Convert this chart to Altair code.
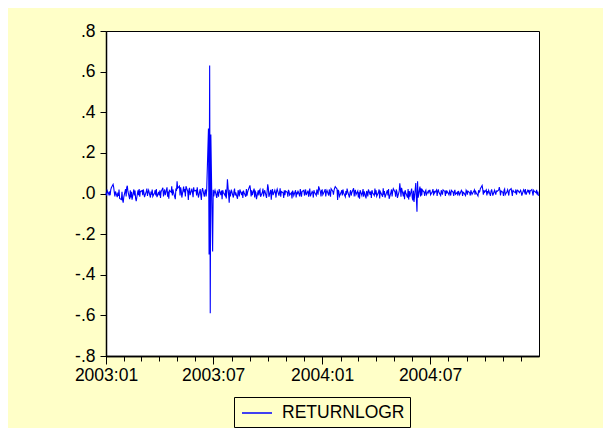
import pandas as pd
import altair as alt

# Daily log returns, one list per month
jan03 = [0.004, -0.010, 0.014, -0.006, 0.010, -0.008, 0.018, 0.028, 0.045, 0.030, 0.006, -0.014, 0.010, -0.018, 0.004, -0.012, 0.020, -0.024, -0.030, 0.008, -0.032, -0.045, -0.018]
feb03 = [0.022, -0.014, 0.030, 0.038, 0.010, -0.028, 0.016, -0.020, 0.008, -0.030, 0.020, -0.010, 0.014, -0.024, -0.038, 0.016, -0.008, 0.022, -0.016, 0.010]
mar03 = [0.014, -0.008, 0.020, 0.004, -0.018, 0.010, 0.024, -0.012, 0.006, 0.016, -0.020, 0.010, -0.006, 0.020, -0.014, 0.004, 0.016, -0.010, 0.022, -0.018, 0.008]
apr03 = [-0.010, 0.016, -0.022, 0.008, 0.028, -0.014, 0.006, 0.020, -0.008, 0.030, -0.016, 0.010, -0.026, 0.016, 0.006, 0.035, -0.010, 0.020, 0.006, -0.028, 0.024, 0.012]
may03 = [0.060, 0.026, 0.036, -0.010, 0.030, 0.014, -0.020, 0.034, 0.006, 0.022, -0.014, 0.036, 0.010, -0.032, 0.018, 0.028, -0.008, 0.024, 0.004, -0.018, 0.030, 0.012]
jun03 = [0.016, -0.010, 0.030, 0.006, -0.020, 0.022, -0.008, -0.032, 0.012, 0.026, -0.016, 0.010, 0.020, -0.014, 0.018, 0.320, -0.300, 0.630, -0.590, 0.290, -0.285]
jul03 = [0.018, -0.014, 0.006, 0.016, -0.022, 0.010, 0.004, -0.016, 0.022, -0.008, 0.014, -0.028, 0.016, 0.005, -0.010, 0.020, -0.024, 0.008, 0.070, -0.045, 0.018, -0.014, 0.006]
aug03 = [0.014, -0.020, 0.010, 0.024, -0.010, 0.006, -0.026, 0.016, 0.004, -0.014, 0.020, -0.008, 0.010, -0.022, 0.014, 0.005, -0.016, 0.022, -0.010, 0.006, 0.016]
sep03 = [0.040, 0.018, -0.014, 0.016, -0.008, 0.024, -0.020, 0.010, 0.004, -0.028, 0.016, -0.010, 0.014, 0.020, -0.016, 0.006, 0.024, -0.014, 0.004, 0.016, -0.022, 0.010]
oct03 = [0.045, 0.028, -0.016, 0.018, -0.030, 0.010, 0.022, -0.008, 0.016, 0.004, -0.020, 0.012, 0.022, -0.010, 0.006, 0.026, -0.016, 0.010, 0.004, -0.022, 0.016, -0.008, 0.012]
nov03 = [0.006, -0.016, 0.018, 0.010, -0.008, 0.004, -0.024, 0.014, 0.005, -0.010, 0.016, -0.020, 0.006, -0.004, 0.014, -0.014, 0.022, 0.004, -0.016, 0.010]
dec03 = [0.016, -0.010, 0.006, 0.020, -0.008, 0.014, -0.016, 0.004, 0.024, -0.014, 0.010, 0.005, -0.020, 0.016, 0.006, -0.010, 0.020, 0.010, -0.006, 0.035, 0.008, -0.014, 0.016]
jan04 = [0.018, -0.006, 0.012, 0.022, -0.014, 0.006, 0.016, -0.010, 0.020, 0.004, -0.016, 0.024, 0.010, -0.006, 0.016, 0.026, 0.034, 0.022, -0.032, 0.018, 0.010, -0.014]
feb04 = [0.006, 0.016, -0.010, 0.020, 0.004, -0.016, 0.012, -0.006, 0.024, 0.010, -0.020, 0.006, 0.016, -0.010, 0.004, 0.026, -0.014, 0.010, 0.018, -0.006]
mar04 = [0.012, -0.020, 0.006, -0.026, 0.016, -0.010, 0.004, 0.022, -0.016, 0.010, -0.024, 0.012, 0.005, -0.014, 0.020, -0.006, 0.010, -0.022, 0.016, 0.004, -0.010, 0.024, -0.004]
apr04 = [0.016, -0.014, 0.006, 0.020, -0.024, 0.010, 0.004, -0.016, 0.026, -0.006, 0.012, -0.020, 0.008, 0.016, -0.010, 0.022, -0.026, 0.006, 0.020, -0.014, 0.010, 0.024]
may04 = [0.006, -0.016, 0.020, 0.010, -0.022, 0.012, 0.050, 0.022, -0.016, 0.028, -0.014, 0.010, -0.028, 0.016, 0.004, -0.020, 0.022, -0.030, 0.012, -0.016, 0.024]
jun04 = [-0.020, -0.034, 0.014, -0.042, 0.052, -0.024, -0.090, 0.060, -0.020, 0.034, -0.014, 0.026, -0.010, 0.018, 0.006, -0.012, 0.010, 0.016, -0.006, 0.012, 0.004, 0.016]
jul04 = [0.016, -0.006, 0.010, 0.022, -0.010, 0.012, 0.004, 0.018, -0.012, 0.010, 0.020, 0.006, -0.010, 0.016, 0.005, -0.006, 0.018, 0.010, -0.012, 0.016, 0.004, 0.010]
aug04 = [-0.006, 0.012, 0.004, -0.010, 0.016, 0.006, -0.012, 0.010, 0.018, -0.004, 0.006, -0.010, 0.012, 0.004, -0.006, 0.016, 0.010, -0.012, 0.006, 0.004, -0.010, 0.016]
sep04 = [0.010, -0.006, 0.012, 0.004, -0.010, 0.016, 0.006, -0.004, 0.012, 0.018, -0.006, 0.010, 0.004, -0.012, 0.016, 0.006, 0.010, 0.024, 0.040, 0.020, -0.006, 0.016]
oct04 = [0.006, 0.018, -0.010, 0.012, 0.004, 0.016, -0.012, 0.010, 0.020, 0.006, -0.010, 0.016, 0.004, -0.006, 0.012, 0.010, 0.018, 0.032, 0.016, -0.010, 0.012]
nov04 = [0.006, -0.012, 0.016, 0.022, -0.006, 0.010, 0.018, 0.004, -0.010, 0.016, 0.024, 0.006, -0.012, 0.018, 0.010, 0.004, 0.020, -0.006, 0.012, 0.016, 0.004, 0.010]
dec04 = [0.016, 0.006, -0.010, 0.018, 0.012, 0.004, 0.022, -0.006, 0.016, 0.010, 0.018, -0.004, 0.012, 0.020, 0.006, -0.010, 0.016, 0.012, 0.004, 0.018, -0.006, 0.010, -0.012]

months = [jan03, feb03, mar03, apr03, may03, jun03, jul03, aug03, sep03, oct03, nov03, dec03,
          jan04, feb04, mar04, apr04, may04, jun04, jul04, aug04, sep04, oct04, nov04, dec04]

series_name = "RETURNLOGR"
y_ticks = [-0.8, -0.6, -0.4, -0.2, 0.0, 0.2, 0.4, 0.6, 0.8]

rows = []
for i, vals in enumerate(months):
    start = pd.Timestamp(2003 + i // 12, i % 12 + 1, 1)
    days = pd.bdate_range(start, start + pd.offsets.MonthEnd(0))
    for d, v in zip(days, vals):
        rows.append({"date": d.strftime("%Y-%m-%dT00:00:00"), "value": v, "series": series_name})
df = pd.DataFrame(rows)

BG = "#FFFFC8"
FONT = "Liberation Sans"
FS = 17.5

x_scale = alt.Scale(domain=[alt.DateTime(year=2003, month=1, date=1),
                            alt.DateTime(year=2005, month=1, date=1)])
minor_vals = [alt.DateTime(year=2003 + i // 12, month=i % 12 + 1, date=1) for i in range(24)]
major_vals = [alt.DateTime(year=y, month=m, date=1) for y in (2003, 2004) for m in (1, 7)]

y_enc = alt.Y("value:Q",
              scale=alt.Scale(domain=[-0.8, 0.8], nice=False, zero=False),
              axis=alt.Axis(values=y_ticks, title=None, grid=False, tickSize=6, labelPadding=5,
                            labelExpr="replace(replace(format(datum.value, '.1f'), '\u2212', '-'), '0.', '.')"))

base = alt.Chart(df)

line = base.mark_line(strokeWidth=1.1, color="#0000FF").encode(
    x=alt.X("date:T", scale=x_scale,
            axis=alt.Axis(values=minor_vals, labels=False, tickSize=5, title=None,
                          grid=False, orient="bottom")),
    y=y_enc,
    color=alt.Color("series:N",
                    scale=alt.Scale(domain=[series_name], range=["#0000FF"]),
                    legend=alt.Legend(title=None, orient="none", legendX=128, legendY=366,
                                      symbolType="M-0.8,0H2.2", symbolSize=400,
                                      symbolStrokeWidth=1.5,
                                      labelFontSize=FS, labelFont=FONT, labelColor="black",
                                      strokeColor="black", padding=5, fillColor=BG,
                                      cornerRadius=0, labelOffset=21)),
)

major = base.mark_line(opacity=0).encode(
    x=alt.X("date:T", scale=x_scale,
            axis=alt.Axis(values=major_vals, labelExpr="timeFormat(datum.value, '%Y:%m')",
                          tickSize=8, labelPadding=2, title=None, grid=False, orient="bottom",
                          labelOverlap=False, labelFlush=False)),
    y=y_enc,
)

chart = alt.layer(line, major).resolve_axis(x="independent").properties(
    width=433, height=325,
    autosize=alt.AutoSizeParams(type="none"),
    padding={"left": 98, "top": 23, "right": 64, "bottom": 72},
).configure(background=BG).configure_view(
    fill="white", stroke="black", strokeWidth=1
).configure_axis(
    domainColor="black", domainWidth=1.5, tickColor="black", tickWidth=1,
    labelColor="black", labelFont=FONT, labelFontSize=FS
)

chart.save("out.html", embed_options={"renderer": "svg", "actions": False})
